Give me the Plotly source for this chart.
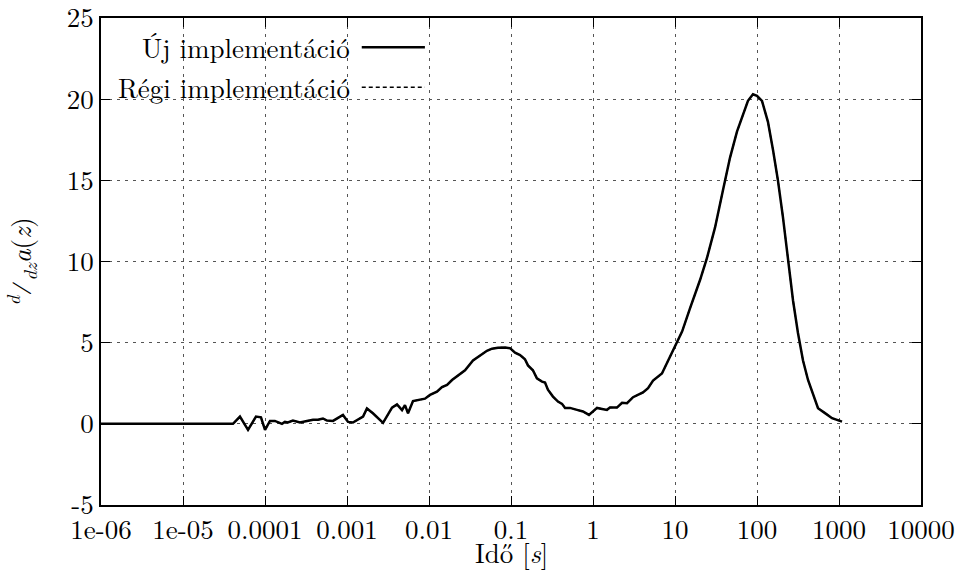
import plotly.graph_objects as go

# ---- data ----
time_s = [1e-06, 1e-05, 3e-05, 4.07e-05, 4.95e-05, 6.21e-05, 7.76e-05, 8.93e-05, 1.00e-04,
          1.15e-04, 1.32e-04, 1.61e-04, 1.75e-04, 1.90e-04, 2.19e-04, 2.67e-04, 3.25e-04,
          3.85e-04, 4.43e-04, 5.09e-04, 5.70e-04, 6.75e-04, 8.93e-04, 1.03e-03, 1.18e-03,
          1.57e-03, 1.75e-03, 2.07e-03, 2.75e-03, 3.54e-03, 4.07e-03, 4.69e-03, 5.09e-03,
          5.55e-03, 6.38e-03, 7.35e-03, 8.93e-03, 1.03e-02, 1.25e-02, 1.44e-02, 1.66e-02,
          1.91e-02, 2.26e-02, 2.75e-02, 3.44e-02, 4.19e-02, 5.09e-02, 5.86e-02, 6.93e-02,
          8.45e-02, 9.73e-02, 0.112, 0.129, 0.148, 0.161, 0.185, 0.207, 0.239, 0.260,
          0.282, 0.325, 0.374, 0.419, 0.456, 0.525, 0.638, 0.755, 0.893, 1.00, 1.12,
          1.29, 1.48, 1.61, 1.96, 2.26, 2.60, 3.08, 4.07, 4.69, 5.40, 6.93, 7.98, 9.46,
          12.2, 15.2, 20.2, 24.5, 30.8, 38.5, 46.9, 57.0, 67.5, 77.6, 89.3, 100, 115,
          136, 157, 180, 207, 239, 275, 316, 364, 419, 482, 555, 675, 822, 1089]

new_impl = [0.0, 0.0, 0.0, 0.0, 0.45, -0.37, 0.45, 0.40, -0.37,
            0.18, 0.18, 0.0, 0.12, 0.08, 0.20, 0.08, 0.18,
            0.25, 0.25, 0.33, 0.20, 0.18, 0.55, 0.12, 0.08,
            0.45, 0.95, 0.65, 0.06, 1.0, 1.2, 0.85, 1.15,
            0.65, 1.4, 1.48, 1.55, 1.78, 1.98, 2.26, 2.4,
            2.7, 3.0, 3.3, 3.9, 4.2, 4.5, 4.63, 4.69,
            4.70, 4.66, 4.38, 4.24, 3.98, 3.6, 3.3, 2.8, 2.6, 2.54,
            2.1, 1.68, 1.37, 1.23, 0.98, 0.98, 0.86, 0.76, 0.55, 0.76, 0.98,
            0.92, 0.86, 1.0, 1.0, 1.3, 1.27, 1.64, 1.93, 2.2, 2.66, 3.1, 3.73, 4.55,
            5.68, 7.1, 8.86, 10.2, 12.1, 14.4, 16.4, 18.0, 19.1, 19.9, 20.3, 20.2, 19.9,
            18.6, 16.85, 15.0, 12.75, 10.3, 7.6, 5.6, 3.9, 2.7, 1.78, 0.96, 0.66, 0.35, 0.14]

# the old implementation coincides with the new one in the picture
old_impl = list(new_impl)

x_tickvals = [1e-06, 1e-05, 1e-04, 1e-03, 1e-02, 1e-01, 1, 10, 100, 1000, 10000]
x_ticktext = ["1e-06", "1e-05", "0.0001", "0.001", "0.01", "0.1", "1", "10", "100", "1000", "10000"]
y_tickvals = [-5, 0, 5, 10, 15, 20, 25]
y_ticktext = ["-5", "0", "5", "10", "15", "20", "25"]

series_names = ["Új implementáció", "Régi implementáció"]

FONT = "Latin Modern Roman"
FS = 27

fig = go.Figure()
fig.add_trace(go.Scatter(x=time_s, y=old_impl, mode="lines", name=series_names[1],
                         line=dict(color="black", width=1.5, dash="3px,3px")))
fig.add_trace(go.Scatter(x=time_s, y=new_impl, mode="lines", name=series_names[0],
                         line=dict(color="black", width=2.5)))

axis_common = dict(
    showline=True, linecolor="black", linewidth=1.5, mirror="allticks",
    ticks="inside", ticklen=9, tickwidth=1, tickcolor="black",
    showgrid=True, gridcolor="#555555", gridwidth=1, griddash="3px,5px",
    zeroline=False, automargin=False, ticklabeloverflow="allow",
    tickfont=dict(family=FONT, size=FS, color="black"),
)

fig.update_layout(
    width=963, height=575,
    margin=dict(l=101, r=42, t=18, b=70),
    plot_bgcolor="white", paper_bgcolor="white",
    showlegend=False,
    font=dict(family=FONT, size=FS, color="black"),
    xaxis=dict(type="log", range=[-6, 4], tickvals=x_tickvals, ticktext=x_ticktext,
               **axis_common),
    yaxis=dict(range=[-5, 25], tickvals=y_tickvals, ticktext=y_ticktext, **axis_common),
)

# white box behind the key (hides the grid there)
fig.add_shape(type="rect", xref="paper", yref="paper", x0=0, x1=0.404, y0=0.823, y1=1,
              fillcolor="white", line=dict(width=0), layer="between")

# key: text right-aligned, line sample on the right
key_y = [0.940, 0.858]
for name, ky in zip(series_names, key_y):
    fig.add_annotation(xref="paper", yref="paper", x=0.306, y=ky, xanchor="right",
                       yanchor="middle", text=name, showarrow=False,
                       font=dict(family=FONT, size=FS, color="black"))
fig.add_shape(type="line", xref="paper", yref="paper", x0=0.318, x1=0.395,
              y0=key_y[0], y1=key_y[0], line=dict(color="black", width=2.5))
fig.add_shape(type="line", xref="paper", yref="paper", x0=0.318, x1=0.395,
              y0=key_y[1], y1=key_y[1], line=dict(color="black", width=1.5, dash="4px,3px"))

# x axis title
fig.add_annotation(xref="paper", yref="paper", x=0.5, y=-0.097, xanchor="center",
                   yanchor="middle", showarrow=False, text="Idő [<i>s</i>]",
                   font=dict(family=FONT, size=FS, color="black"))

# y axis label  d/dz a(z)
fig.add_annotation(xref="paper", yref="paper", x=-0.098, y=0.5, xanchor="center",
                   yanchor="middle", textangle=-90, showarrow=False,
                   text="<sup><i>d</i></sup>⁄<sub><i>dz</i></sub><i>a</i>(<i>z</i>)",
                   font=dict(family=FONT, size=FS, color="black"))

fig.write_html("out.html")
